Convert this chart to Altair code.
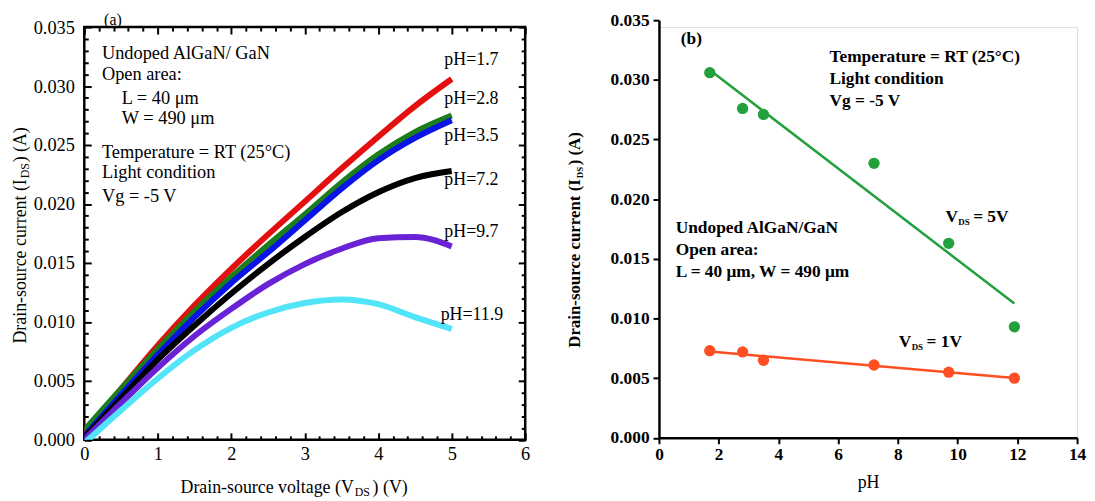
import altair as alt
import pandas as pd

FONT = "Liberation Serif"

# ---------------- Panel (a) data ----------------
V = [0.0, 0.5, 1.0, 1.5, 2.0, 2.5, 3.0, 3.5, 4.0, 4.5, 5.0]
I_ph17 = [0.0005, 0.0043, 0.0080, 0.0114, 0.0145, 0.0174, 0.0202, 0.0230, 0.0257, 0.0283, 0.0306]
I_ph28 = [0.0008, 0.0043, 0.0077, 0.0109, 0.0138, 0.0165, 0.0191, 0.0218, 0.0242, 0.0261, 0.0275]
I_ph35 = [0.0003, 0.0038, 0.0072, 0.0104, 0.0133, 0.0159, 0.0186, 0.0213, 0.0237, 0.0256, 0.0271]
I_ph72 = [0.0002, 0.0035, 0.0068, 0.0097, 0.0124, 0.0149, 0.0172, 0.0193, 0.0210, 0.0222, 0.0228]
I_ph97 = [0.0000, 0.0031, 0.0061, 0.0088, 0.0111, 0.0132, 0.0149, 0.0162, 0.0171, 0.0172, 0.0164]
I_ph119 = [-0.0003, 0.0025, 0.0052, 0.0076, 0.0095, 0.0108, 0.0116, 0.0119, 0.0115, 0.0104, 0.0094]

series1 = ["pH=1.7", "pH=2.8", "pH=3.5", "pH=7.2", "pH=9.7", "pH=11.9"]
colors1 = ["#e40f0f", "#1b7d1b", "#0a14e6", "#000000", "#6a22d6", "#52e4f8"]
values1 = [I_ph17, I_ph28, I_ph35, I_ph72, I_ph97, I_ph119]

label1_V = [4.90, 4.90, 4.90, 4.90, 4.90, 4.85]
label1_I = [0.0322, 0.0289, 0.0258, 0.0220, 0.0176, 0.0106]

ann1_text = ["Undoped AlGaN/ GaN", "Open area:", "L = 40 \u03bcm", "W = 490 \u03bcm",
             "Temperature = RT (25\u00b0C)", "Light condition", "Vg = -5 V"]
ann1_V = [0.24, 0.24, 0.51, 0.51, 0.24, 0.24, 0.24]
ann1_I = [0.0328, 0.0310, 0.0290, 0.02725, 0.0244, 0.02267, 0.02067]

x1_major = [0, 1, 2, 3, 4, 5, 6]
x1_minor = [0.2, 0.4, 0.6, 0.8, 1.2, 1.4, 1.6, 1.8, 2.2, 2.4, 2.6, 2.8, 3.2, 3.4, 3.6, 3.8,
            4.2, 4.4, 4.6, 4.8, 5.2, 5.4, 5.6, 5.8]
y1_major = [0.0, 0.005, 0.010, 0.015, 0.020, 0.025, 0.030, 0.035]
y1_minor = [0.001, 0.002, 0.003, 0.004, 0.006, 0.007, 0.008, 0.009, 0.011, 0.012, 0.013, 0.014,
            0.016, 0.017, 0.018, 0.019, 0.021, 0.022, 0.023, 0.024, 0.026, 0.027, 0.028, 0.029,
            0.031, 0.032, 0.033, 0.034]

# ---------------- Panel (b) data ----------------
pH_vals = [1.7, 2.8, 3.5, 7.2, 9.7, 11.9]
I_vds5 = [0.0306, 0.0276, 0.0271, 0.0230, 0.0163, 0.0093]
I_vds1 = [0.0073, 0.0072, 0.0065, 0.0061, 0.0055, 0.0050]
series2 = ["VDS = 5V", "VDS = 1V"]
colors2 = ["#22a03c", "#ff4f22"]
x2_ticks = [0, 2, 4, 6, 8, 10, 12, 14]
y2_ticks = [0.0, 0.005, 0.010, 0.015, 0.020, 0.025, 0.030, 0.035]

ann2_text = ["(b)", "Temperature = RT (25\u00b0C)", "Light condition", "Vg = -5 V",
             "Undoped AlGaN/GaN", "Open area:", "L = 40 \u03bcm, W = 490 \u03bcm"]
ann2_pH = [0.73, 5.71, 5.71, 5.71, 0.56, 0.56, 0.56]
ann2_I = [0.0334, 0.0319, 0.0301, 0.0282, 0.01754, 0.01572, 0.0139]

vds_pH = [9.59, 8.03]
vds_I = [0.0186, 0.0081]
vds_tail = ["= 5V", "= 1V"]

TOP = 23.5          # page y of both plot origins
W1, H1 = 445, 440 - TOP
W2, H2 = 422, 438 - TOP
R_OVER = 7          # right axis extends this far above its plot origin

# ---------------- Build panel (a) ----------------
rows = []
for name, vals in zip(series1, values1):
    for v, i in zip(V, vals):
        rows.append({"V": v, "I": i, "series": name})
df1 = pd.DataFrame(rows)

xs1 = alt.Scale(domain=[0, 6], nice=False, zero=False)
ys1 = alt.Scale(domain=[0, 0.035], nice=False, zero=False)

lab_x = alt.Axis(orient="bottom", values=x1_major, format="d", labelFont=FONT, labelFontSize=18.5,
                 labelColor="black", labelPadding=5, ticks=False, tickSize=0, domain=False,
                 grid=False, title=None, labelFlush=False, labelOverlap=False)
lab_y = alt.Axis(orient="left", values=y1_major, format=".3f", labelFont=FONT, labelFontSize=18.5,
                 labelColor="black", labelPadding=10, ticks=False, tickSize=0, domain=False,
                 grid=False, title=None, labelFlush=False, labelOverlap=False)

lines1 = alt.Chart(df1).mark_line(strokeWidth=6, interpolate="monotone", clip=True).encode(
    x=alt.X("V:Q", scale=xs1, axis=lab_x),
    y=alt.Y("I:Q", scale=ys1, axis=lab_y),
    color=alt.Color("series:N", scale=alt.Scale(domain=series1, range=colors1), legend=None),
)


def tick_layer(xv, yv, size, xo, yo):
    return alt.Chart(df1).mark_point(opacity=0).encode(
        x=alt.X("V:Q", scale=xs1, axis=alt.Axis(orient=xo, values=xv, labels=False, domain=False,
                                                grid=False, ticks=True, tickSize=size, tickWidth=2,
                                                tickColor="black", offset=-size, title=None)),
        y=alt.Y("I:Q", scale=ys1, axis=alt.Axis(orient=yo, values=yv, labels=False, domain=False,
                                                grid=False, ticks=True, tickSize=size, tickWidth=2,
                                                tickColor="black", offset=-size, title=None)),
    )


t_major_bl = tick_layer(x1_major, y1_major, 7, "bottom", "left")
t_minor_bl = tick_layer(x1_minor, y1_minor, 4, "bottom", "left")
t_major_tr = tick_layer(x1_major, y1_major, 7, "top", "right")
t_minor_tr = tick_layer(x1_minor, y1_minor, 4, "top", "right")

lab1_df = pd.DataFrame({"V": label1_V, "I": label1_I, "t": series1})
labels1 = alt.Chart(lab1_df).mark_text(align="left", baseline="middle", font=FONT, fontSize=18,
                                       color="black").encode(
    x=alt.X("V:Q", scale=xs1, axis=None), y=alt.Y("I:Q", scale=ys1, axis=None), text="t:N")

ann1_df = pd.DataFrame({"V": ann1_V, "I": ann1_I, "t": ann1_text})
ann1 = alt.Chart(ann1_df).mark_text(align="left", baseline="middle", font=FONT, fontSize=18.5,
                                    color="black").encode(
    x=alt.X("V:Q", scale=xs1, axis=None), y=alt.Y("I:Q", scale=ys1, axis=None), text="t:N")

one = pd.DataFrame({"k": [0]})


def txt(s, x, y, size=18, align="left", dx=0, dy=0, angle=0, weight="normal", baseline="alphabetic"):
    return alt.Chart(one).mark_text(text=s, align=align, baseline=baseline, font=FONT, fontSize=size,
                                    fontWeight=weight, color="black", dx=dx, dy=dy, angle=angle).encode(
        x=alt.value(x), y=alt.value(y))


# panel tag and axis titles with subscripts (positions in plot pixels)
tag_a = txt("(a)", 20, -7.5, size=16, baseline="middle")
xt1 = txt("Drain-source voltage (V", 272, 494 - TOP, align="right")
xt2 = txt("DS", 272, 494 - TOP, size=12, dx=1, dy=3)
xt3 = txt(") (V)", 272, 494 - TOP, dx=19)
yt1 = txt("Drain-source current (I", -59, 177 - TOP, align="right", angle=270)
yt2 = txt("DS", -59, 177 - TOP, size=12, dx=1, dy=3, angle=270)
yt3 = txt(") (A)", -59, 177 - TOP, dx=17, angle=270)

left = alt.layer(
    lines1, t_major_bl, t_minor_bl, t_major_tr, t_minor_tr, labels1, ann1,
    tag_a, xt1, xt2, xt3, yt1, yt2, yt3,
).resolve_axis(x="independent", y="independent").properties(
    width=W1, height=H1, view=alt.ViewBackground(stroke="black", strokeWidth=2.5))

# ---------------- Build panel (b) ----------------
rows2 = []
for name, vals in zip(series2, [I_vds5, I_vds1]):
    for p, i in zip(pH_vals, vals):
        rows2.append({"pH": p, "I": i, "vds": name})
df2 = pd.DataFrame(rows2)

xs2 = alt.Scale(domain=[0, 14], nice=False, zero=False)
ys2 = alt.Scale(domain=[0, 0.035], range=[H2, -R_OVER], nice=False, zero=False)
ax2x = alt.Axis(values=x2_ticks, format="d", labelFont=FONT, labelFontWeight="bold", labelFontSize=17.5,
                labelColor="black", labelPadding=2, tickSize=6, tickWidth=2, tickColor="black",
                domainColor="black", domainWidth=2.5, grid=False, title="pH", titleFont=FONT,
                titleFontSize=18, titleFontWeight="normal", titleColor="black", titlePadding=11,
                labelFlush=False, labelOverlap=False)
ax2y = alt.Axis(values=y2_ticks, format=".3f", labelFont=FONT, labelFontWeight="bold", labelFontSize=17.5,
                labelColor="black", labelPadding=4, tickSize=6, tickWidth=2, tickColor="black",
                domainColor="black", domainWidth=2.5, grid=False, title=None,
                labelFlush=False, labelOverlap=False)
col2 = alt.Color("vds:N", scale=alt.Scale(domain=series2, range=colors2), legend=None)

pts2 = alt.Chart(df2).mark_circle(size=130, opacity=1).encode(
    x=alt.X("pH:Q", scale=xs2, axis=ax2x), y=alt.Y("I:Q", scale=ys2, axis=ax2y), color=col2)
fit2 = alt.Chart(df2).transform_regression("pH", "I", groupby=["vds"]).mark_line(
    strokeWidth=2.5).encode(
    x=alt.X("pH:Q", scale=xs2, axis=ax2x), y=alt.Y("I:Q", scale=ys2, axis=ax2y), color=col2)

ann2_df = pd.DataFrame({"pH": ann2_pH, "I": ann2_I, "t": ann2_text})
ann2 = alt.Chart(ann2_df).mark_text(align="left", baseline="middle", font=FONT, fontSize=17.5,
                                    fontWeight="bold", color="black").encode(
    x=alt.X("pH:Q", scale=xs2, axis=ax2x), y=alt.Y("I:Q", scale=ys2, axis=ax2y), text="t:N")

vds_df = pd.DataFrame({"pH": vds_pH, "I": vds_I, "tail": vds_tail, "v": ["V", "V"], "ds": ["DS", "DS"]})
base_v = alt.Chart(vds_df).encode(x=alt.X("pH:Q", scale=xs2, axis=ax2x), y=alt.Y("I:Q", scale=ys2, axis=ax2y))
vds_v = base_v.mark_text(align="left", baseline="alphabetic", font=FONT, fontSize=17.5, fontWeight="bold",
                         color="black", dy=6).encode(text="v:N")
vds_s = base_v.mark_text(align="left", baseline="alphabetic", font=FONT, fontSize=9, fontWeight="bold",
                         color="black", dx=13, dy=9).encode(text="ds:N")
vds_t = base_v.mark_text(align="left", baseline="alphabetic", font=FONT, fontSize=17.5, fontWeight="bold",
                         color="black", dx=28, dy=6).encode(text="tail:N")

ryt1 = txt("Drain-source current (I", -80, 177 - TOP, size=17, align="right", angle=270, weight="bold")
ryt2 = txt("DS", -80, 177 - TOP, size=9, dx=1, dy=3, angle=270, weight="bold")
ryt3 = txt(") (A)", -80, 177 - TOP, size=17, dx=14, angle=270, weight="bold")

right = alt.layer(fit2, pts2, ann2, vds_v, vds_s, vds_t, ryt1, ryt2, ryt3).properties(
    width=W2, height=H2)

chart = alt.hconcat(left, right, spacing=34).properties(
    padding={"left": 2, "top": 0, "right": 0, "bottom": 0}
).resolve_scale(color="independent").configure_view(stroke="transparent").configure(background="white")

chart.save("out.html", embed_options={"renderer": "svg", "actions": False})
